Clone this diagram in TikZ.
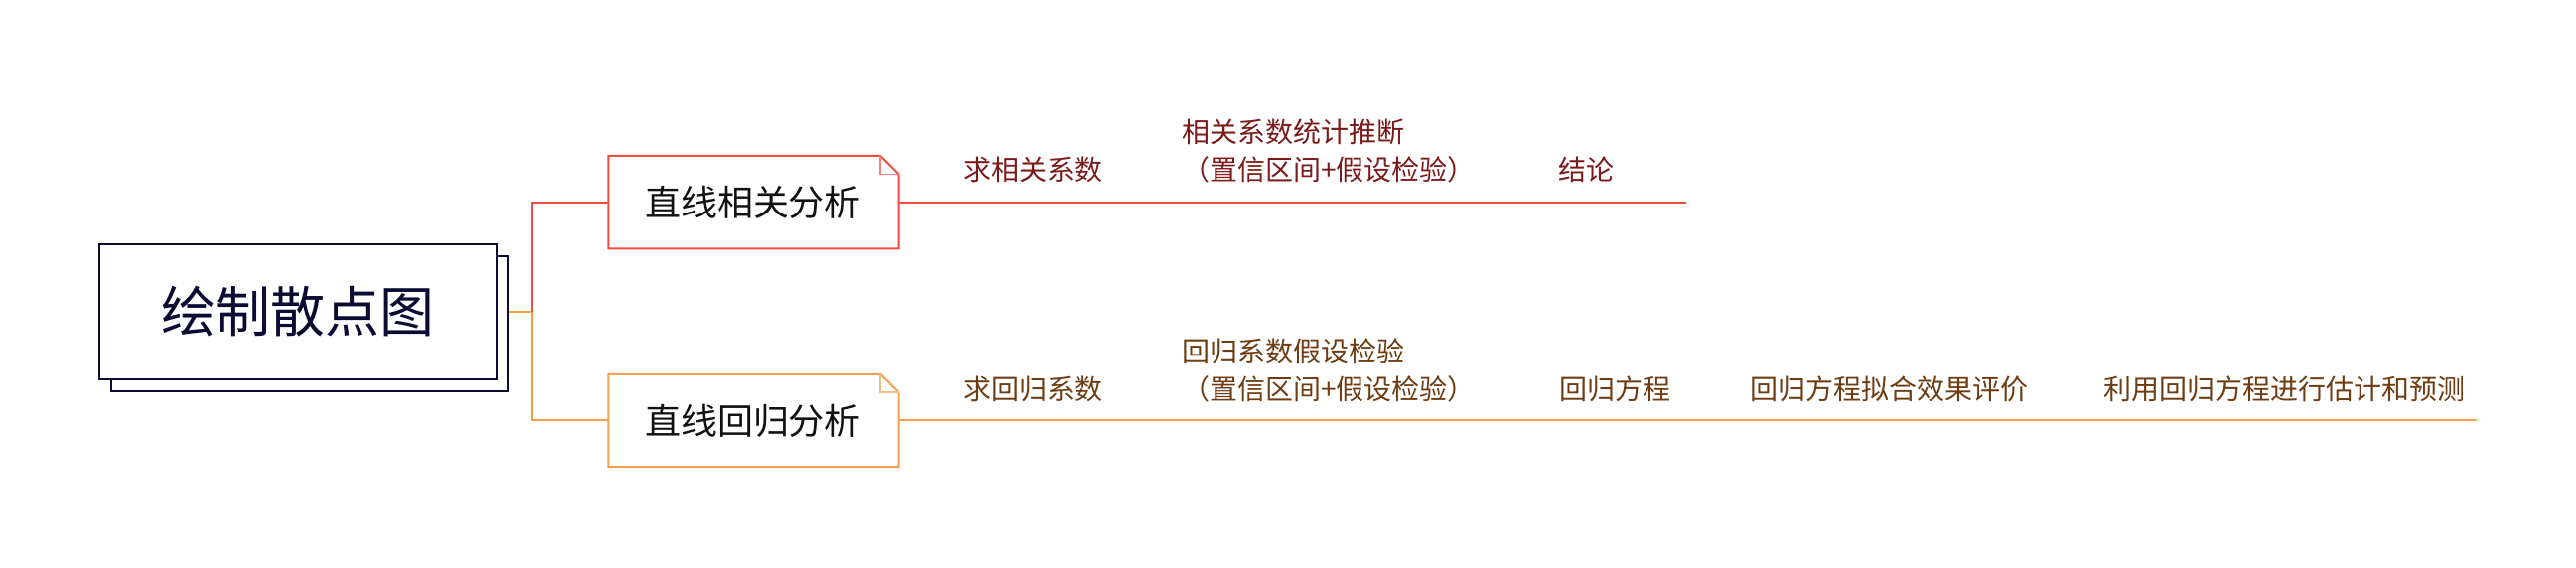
\documentclass[tikz,border=0pt]{standalone}
\usepackage{fontspec}
\setmainfont{Noto Sans CJK SC}
\definecolor{rootc}{HTML}{0B0B33}
\definecolor{redc}{HTML}{F04B41}
\definecolor{orgc}{HTML}{F4A050}
\definecolor{redtxt}{HTML}{7A1A1A}
\definecolor{orgtxt}{HTML}{6E3C12}
\definecolor{branchtxt}{HTML}{111111}
\begin{document}
\begin{tikzpicture}[x=1pt,y=1pt,
  rootbox/.style={draw=rootc, line width=2.2pt, fill=white, minimum width=400pt, minimum height=136pt, inner sep=0pt, font=\fontsize{55}{60}\selectfont, text=rootc},
  branchbox/.style={minimum width=292pt, minimum height=93pt, inner sep=0pt, font=\fontsize{36}{40}\selectfont, text=branchtxt},
  lbl/.style={anchor=west, inner sep=0pt, font=\fontsize{28}{38}\selectfont, align=left},
  redline/.style={draw=redc, line width=2pt},
  orgline/.style={draw=orgc, line width=2pt}]
\useasboundingbox (0,0) rectangle (2594,572);
% root
\node[rootbox] (rootback) at (312,246) {};
\node[rootbox] (root) at (300,258) {绘制散点图};
% branches
\node[branchbox] (red) at (758.5,368.3) {直线相关分析};
\node[branchbox] (org) at (758.5,148.5) {直线回归分析};
\draw[redline, line join=miter] (red.south west) -- (red.north west) -- ([xshift=-18.5pt]red.north east) -- ([yshift=-18.5pt]red.north east) -- (red.south east) -- cycle;
\draw[redline, draw=redc!70, line width=1.6pt] ([xshift=-18.5pt]red.north east) -- ([xshift=-18.5pt,yshift=-18.5pt]red.north east) -- ([yshift=-18.5pt]red.north east);
\draw[orgline, line join=miter] (org.south west) -- (org.north west) -- ([xshift=-18.5pt]org.north east) -- ([yshift=-18.5pt]org.north east) -- (org.south east) -- cycle;
\draw[orgline, draw=orgc!70, line width=1.6pt] ([xshift=-18.5pt]org.north east) -- ([xshift=-18.5pt,yshift=-18.5pt]org.north east) -- ([yshift=-18.5pt]org.north east);
% connectors
\coordinate (j) at (535.8,258);
\draw[orgline] (root.east -| rootback.east) -- (j) |- (org.west);
\draw[redline] (j) |- (red.west);
\coordinate (redend) at (1697.6,368.3);
\coordinate (orgend) at (2493.6,148.5);
\draw[redline] (red.east) -- (redend);
\draw[orgline] (org.east) -- (orgend);
% labels red
\node[lbl, text=redtxt] (r1) at (970,401) {求相关系数};
\node[lbl, text=redtxt] (r2) at (1190,419.5) {相关系数统计推断\\（置信区间+假设检验）};
\node[lbl, text=redtxt] (r3) at (1569,401) {结论};
% labels orange
\node[lbl, text=orgtxt] (o1) at (970,180) {求回归系数};
\node[lbl, text=orgtxt] (o2) at (1190,199) {回归系数假设检验\\（置信区间+假设检验）};
\node[lbl, text=orgtxt] (o3) at (1570,180) {回归方程};
\node[lbl, text=orgtxt] (o4) at (1762,180) {回归方程拟合效果评价};
\node[lbl, text=orgtxt] (o5) at (2118,180) {利用回归方程进行估计和预测};
\end{tikzpicture}
\end{document}
